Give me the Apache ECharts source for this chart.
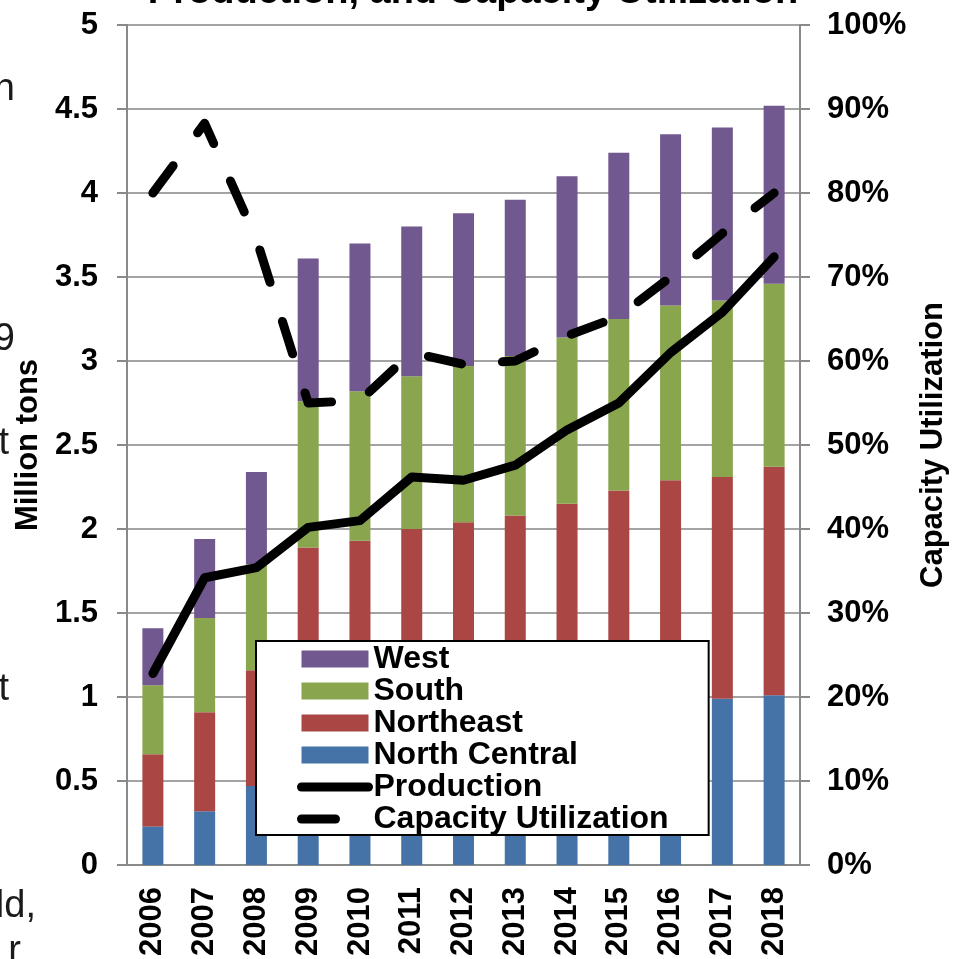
<!DOCTYPE html>
<html>
<head>
<meta charset="utf-8">
<script src="https://cdn.jsdelivr.net/npm/echarts@6/dist/echarts.min.js"></script>
<style>
html, body { margin: 0; background: #fff; }
#chart { width: 957px; height: 959px; }
</style>
</head>
<body>
<div id="chart"></div>
<script>
// data (million tons, stacked by region)
const years = ["2006", "2007", "2008", "2009", "2010", "2011", "2012", "2013", "2014", "2015", "2016", "2017", "2018"];
const northCentral = [0.23, 0.32, 0.47, 0.53, 0.58, 0.63, 0.68, 0.73, 0.78, 0.84, 0.9, 0.99, 1.01];
const northeast = [0.43, 0.59, 0.69, 1.36, 1.35, 1.37, 1.36, 1.35, 1.37, 1.39, 1.39, 1.32, 1.36];
const south = [0.41, 0.56, 0.63, 0.87, 0.89, 0.91, 0.93, 0.95, 0.99, 1.02, 1.04, 1.05, 1.09];
const west = [0.34, 0.47, 0.55, 0.85, 0.88, 0.89, 0.91, 0.93, 0.96, 0.99, 1.02, 1.03, 1.06];
const production = [1.14, 1.71, 1.77, 2.01, 2.05, 2.31, 2.29, 2.38, 2.59, 2.75, 3.05, 3.29, 3.62];
const capacityUtil = [80, 88.3, 74.5, 55, 55.3, 61, 59.6, 60, 63, 65.3, 70, 75.2, 80];
const leftTicks = ["0", "0.5", "1", "1.5", "2", "2.5", "3", "3.5", "4", "4.5", "5"];

const font = "'Liberation Sans', Arial, sans-serif";
const dash = [34, 41];
const axisGray = "#898989";

const chart = echarts.init(document.getElementById("chart"));

function barSeries(name, data, color) {
    return {
        name: name,
        type: "bar",
        stack: "total",
        barWidth: 21,
        data: data,
        itemStyle: { color: color },
        z: 2,
    };
}

// left-edge text cut off from the slide next to the chart
const fragments = [
    { text: "n", x: 15, y: 103 },
    { text: "9", x: 15, y: 353 },
    { text: "t", x: 9, y: 457 },
    { text: "t", x: 9, y: 703 },
    { text: "ld,", x: 36, y: 920 },
    { text: "r", x: 21, y: 965 },
];

const hiddenSymbol = { color: "rgba(0,0,0,0)", opacity: 0, borderWidth: 0 };

chart.setOption({
    animation: false,
    textStyle: { fontFamily: font },
    grid: { left: 127, right: 154, top: 25, bottom: 93 },
    graphic: [
        {
            type: "text",
            style: {
                text: "Production, and Capacity Utilization",
                x: 473,
                y: -7,
                textAlign: "center",
                textVerticalAlign: "middle",
                font: "bold 38px " + font,
                fill: "#000",
            },
        },
    ].concat(
        fragments.map((f) => ({
            type: "text",
            style: {
                text: f.text,
                x: f.x,
                y: f.y - 13,
                textAlign: "right",
                textVerticalAlign: "middle",
                font: "38px " + font,
                fill: "#1a1a1a",
            },
        }))
    ),
    legend: {
        orient: "vertical",
        left: 256,
        top: 641,
        padding: [2, 40, 0, 41],
        itemGap: 0,
        itemWidth: 67,
        itemHeight: 17,
        backgroundColor: "#fff",
        borderColor: "#000",
        borderWidth: 2,
        textStyle: { fontSize: 32, fontWeight: "bold", color: "#000", lineHeight: 31.6 },
        data: [
            { name: "West", icon: "rect" },
            { name: "South", icon: "rect" },
            { name: "Northeast", icon: "rect" },
            { name: "North Central", icon: "rect" },
            { name: "Production", itemStyle: hiddenSymbol, lineStyle: { width: 9, cap: "round", color: "#000" } },
            {
                name: "Capacity Utilization",
                itemStyle: hiddenSymbol,
                lineStyle: { width: 9, cap: "round", color: "#000", type: dash },
            },
        ],
    },
    xAxis: {
        type: "category",
        data: years,
        axisLine: { lineStyle: { color: axisGray, width: 2 } },
        axisTick: { length: 9, lineStyle: { color: axisGray, width: 2 } },
        axisLabel: { rotate: 90, margin: 22, fontSize: 31, fontWeight: "bold", color: "#000" },
    },
    yAxis: [
        {
            type: "value",
            min: 0,
            max: 5,
            interval: 0.5,
            name: "Million tons",
            nameLocation: "middle",
            nameGap: 82,
            nameTextStyle: { fontSize: 31, fontWeight: "bold", color: "#000" },
            axisLine: { show: true, lineStyle: { color: axisGray, width: 2 } },
            axisTick: { show: true, length: 10, lineStyle: { color: axisGray, width: 2 } },
            axisLabel: {
                margin: 29,
                fontSize: 31,
                fontWeight: "bold",
                color: "#000",
                formatter: (v) => leftTicks[Math.round(v * 2)],
            },
            splitLine: { lineStyle: { color: "#a3a3a3", width: 2 } },
        },
        {
            type: "value",
            min: 0,
            max: 100,
            interval: 10,
            name: "Capacity Utilization",
            nameLocation: "middle",
            nameGap: 118,
            nameTextStyle: { fontSize: 31, fontWeight: "bold", color: "#000" },
            axisLine: { show: true, lineStyle: { color: axisGray, width: 2 } },
            axisTick: { show: true, length: 10, lineStyle: { color: axisGray, width: 2 } },
            axisLabel: { margin: 27, fontSize: 31, fontWeight: "bold", color: "#000", formatter: "{value}%" },
            splitLine: { show: false },
        },
    ],
    series: [
        barSeries("North Central", northCentral, "#4572A7"),
        barSeries("Northeast", northeast, "#AA4643"),
        barSeries("South", south, "#89A54E"),
        barSeries("West", west, "#71588F"),
        {
            name: "Production",
            type: "line",
            data: production,
            symbol: "none",
            lineStyle: { color: "#000", width: 9, join: "round", cap: "round" },
            itemStyle: { color: "#000" },
            z: 4,
        },
        {
            name: "Capacity Utilization",
            type: "line",
            yAxisIndex: 1,
            data: capacityUtil,
            symbol: "none",
            lineStyle: { color: "#000", width: 9, join: "round", cap: "round", type: dash },
            itemStyle: { color: "#000" },
            z: 4,
        },
    ],
});
</script>
</body>
</html>
